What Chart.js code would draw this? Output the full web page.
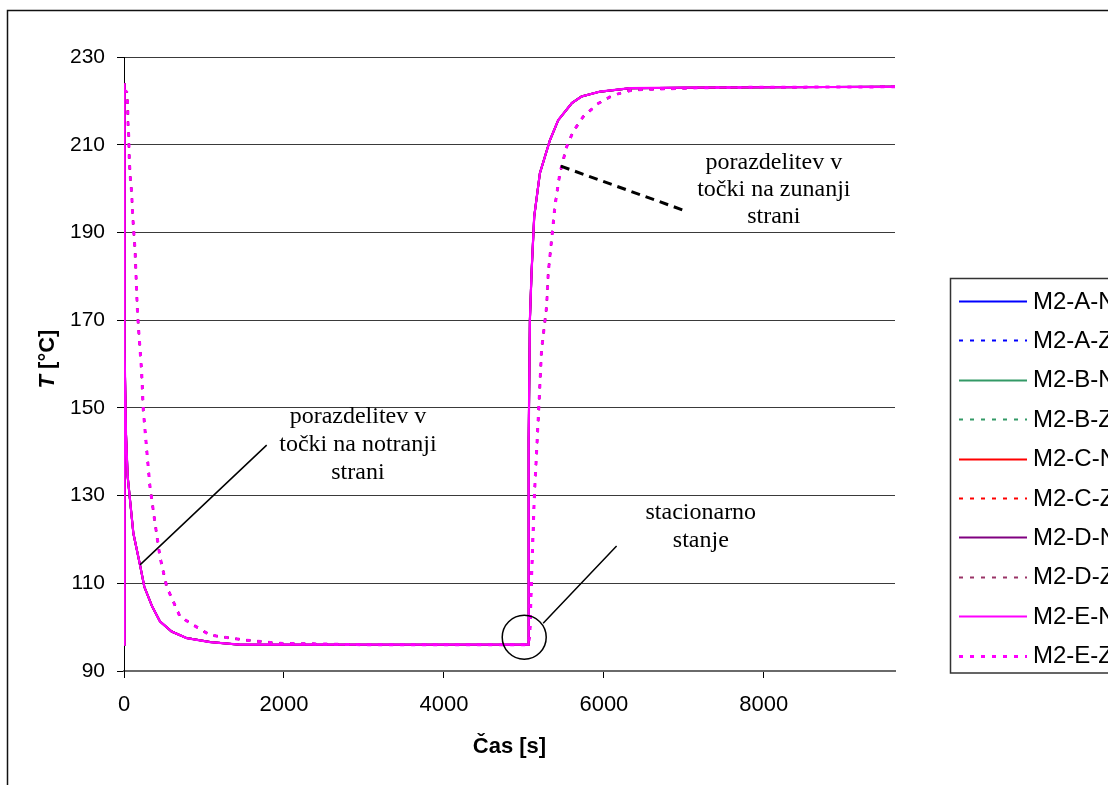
<!DOCTYPE html>
<html>
<head>
<meta charset="utf-8">
<script src="https://cdn.jsdelivr.net/npm/chart.js@4/dist/chart.umd.min.js"></script>
<style>
  html, body { margin: 0; padding: 0; background: #fff; }
  canvas { display: block; }
</style>
</head>
<body>
<canvas id="c" width="1108" height="785"></canvas>
<script>
// Series names (N = point on the inner side, Z = point on the outer side)
const seriesNames = ['M2-A-N', 'M2-A-Z', 'M2-B-N', 'M2-B-Z', 'M2-C-N', 'M2-C-Z', 'M2-D-N', 'M2-D-Z', 'M2-E-N', 'M2-E-Z'];

// Temperature at the inner-side point: time [s] and T [°C] (all variants coincide)
const timeN = [0, 2, 12, 25, 46, 117, 200, 254, 350, 450, 596, 783, 1075, 1450, 2000, 3000, 4000, 5054, 5060, 5075,
               5096, 5129, 5200, 5325, 5429, 5600, 5721, 5950, 6325, 7000, 8000, 9640];
const tempN = [96, 224, 163, 144, 134.3, 121.4, 114.2, 109.2, 104.8, 101.3, 99, 97.5, 96.6, 96, 96, 96, 96, 96, 143, 170,
               181, 193.6, 203.5, 211, 215.6, 219.5, 221, 222.1, 222.9, 223, 223.1, 223.2];

// Temperature at the outer-side point: time [s] and T [°C] (all variants coincide)
const timeZ = [0, 34, 46, 50, 59, 66, 81, 96, 109, 138, 159, 171, 221, 241, 284, 325, 388, 450, 534, 700,
               866, 1075, 1491, 1950, 3000, 4000, 5056, 5075, 5096, 5129, 5166, 5191, 5221, 5284, 5304, 5346, 5388, 5450, 5534, 5616,
               5741, 5929, 6116, 6366, 7200, 8000, 9640];
const tempZ = [222.5, 222, 219, 215, 212, 206.5, 202, 199, 193.6, 186, 176, 171, 158, 149.5, 140.4, 132, 123.7, 116, 109.2, 102.4,
               100.5, 98.2, 97.1, 96.3, 96, 96, 96, 98.6, 111.5, 129, 142.7, 151.8, 163.2, 173.1, 180.7, 188.3, 196, 203.5, 209.5, 213,
               216.4, 219.4, 221.3, 222.5, 223, 223.1, 223.2];

// Axis ticks
const xTickValues = [0, 2000, 4000, 6000, 8000];
const yTickValues = [90, 110, 130, 150, 170, 190, 210, 230];
const xMax = 9640;

// Callout texts
const noteOuter = ['porazdelitev v', 'točki na zunanji', 'strani'];
const noteInner = ['porazdelitev v', 'točki na notranji', 'strani'];
const noteSteady = ['stacionarno', 'stanje'];

// Line styles per series
const seriesColors = ['#0000ff', '#0000ff', '#339966', '#339966', '#ff0000', '#ff0000', '#800080', '#993366', '#ff00ff', '#ff00ff'];

function toPoints(ts, vs) { return ts.map((t, i) => ({ x: t, y: vs[i] })); }

const datasets = seriesNames.map((name, i) => {
  const outer = name.endsWith('Z');
  const isE = name.startsWith('M2-E');
  return {
    label: name,
    data: outer ? toPoints(timeZ, tempZ) : toPoints(timeN, tempN),
    borderColor: seriesColors[i],
    backgroundColor: seriesColors[i],
    borderWidth: outer ? (isE ? 3 : 2) : (isE ? 2.2 : 2),
    borderDash: outer ? [4, 7] : [],
    pointRadius: 0,
    tension: 0,
    fill: false,
    order: seriesNames.length - i
  };
});

const SANS = '"Liberation Sans", Arial, sans-serif';
const SERIF = '"Liberation Serif", "Times New Roman", serif';

const decorPlugin = {
  id: 'decor',
  afterDraw(chart) {
    const ctx = chart.ctx;
    const xs = chart.scales.x, ys = chart.scales.y;
    const X = v => xs.getPixelForValue(v);
    const Y = v => ys.getPixelForValue(v);
    ctx.save();

    // outer frame
    ctx.strokeStyle = '#111';
    ctx.lineWidth = 1.5;
    ctx.strokeRect(7.5, 10.5, 2000, 2000);

    // y-axis title: italic T + unit
    ctx.fillStyle = '#000';
    ctx.translate(48, 359);
    ctx.rotate(-Math.PI / 2);
    ctx.textBaseline = 'middle';
    const f1 = 'italic bold 22px ' + SANS, f2 = 'bold 22px ' + SANS;
    ctx.font = f1; const w1 = ctx.measureText('T').width;
    ctx.font = f2; const w2 = ctx.measureText(' [°C]').width;
    const sx = -(w1 + w2) / 2;
    ctx.textAlign = 'left';
    ctx.font = f1; ctx.fillText('T', sx, 0);
    ctx.font = f2; ctx.fillText(' [°C]', sx + w1, 0);
    ctx.setTransform(1, 0, 0, 1, 0, 0);

    // callout texts
    function block(lines, t, v, gap) {
      ctx.font = '24px ' + SERIF;
      ctx.fillStyle = '#000';
      ctx.textAlign = 'center';
      ctx.textBaseline = 'middle';
      const cx = X(t), cy = Y(v);
      const n = lines.length;
      lines.forEach((s, k) => ctx.fillText(s, cx, cy + (k - (n - 1) / 2) * gap));
    }
    block(noteOuter, 8125, 199.7, 27);
    block(noteInner, 2925, 141.5, 28);
    block(noteSteady, 7212, 122.8, 28);

    // pointer lines
    ctx.strokeStyle = '#000';
    ctx.lineWidth = 3;
    ctx.setLineDash([9, 6]);
    ctx.beginPath();
    ctx.moveTo(X(5462), Y(205.1));
    ctx.lineTo(X(7012), Y(194.95));
    ctx.stroke();
    ctx.setLineDash([]);
    ctx.lineWidth = 1.5;
    ctx.beginPath();
    ctx.moveTo(X(200), Y(114.2));
    ctx.lineTo(X(1784), Y(141.5));
    ctx.moveTo(X(5241), Y(100.9));
    ctx.lineTo(X(6159), Y(118.5));
    ctx.stroke();
    ctx.beginPath();
    ctx.arc(X(5004), Y(97.7), 22, 0, Math.PI * 2);
    ctx.stroke();

    // legend
    const lx = 950.5, ly = 278.5;
    ctx.strokeStyle = '#333';
    ctx.lineWidth = 1.5;
    ctx.strokeRect(lx, ly, 400, 394.5);
    ctx.font = '24px ' + SANS;
    ctx.textAlign = 'left';
    ctx.textBaseline = 'middle';
    chart.data.datasets.forEach((ds, i) => {
      const yy = 301 + i * 39.4;
      ctx.strokeStyle = ds.borderColor;
      ctx.lineWidth = ds.borderWidth;
      ctx.setLineDash(ds.borderDash);
      ctx.beginPath();
      ctx.moveTo(959, Math.round(yy) + 0.5);
      ctx.lineTo(1027, Math.round(yy) + 0.5);
      ctx.stroke();
      ctx.setLineDash([]);
      ctx.fillStyle = '#000';
      ctx.fillText(ds.label, 1033, yy + 1);
    });
    ctx.restore();
  }
};

new Chart(document.getElementById('c'), {
  type: 'line',
  data: { datasets },
  plugins: [decorPlugin],
  options: {
    responsive: false,
    animation: false,
    devicePixelRatio: 1,
    events: [],
    layout: { padding: { left: 0, top: 57, right: 213, bottom: 25 } },
    plugins: { legend: { display: false }, tooltip: { enabled: false } },
    scales: {
      x: {
        type: 'linear',
        min: 0,
        max: xMax,
        afterFit(scale) { scale.height = 89; },
        afterBuildTicks(scale) { scale.ticks = xTickValues.map(v => ({ value: v })); },
        grid: { drawOnChartArea: false, drawTicks: true, tickLength: 7, tickColor: '#000' },
        border: { color: '#6a6a6a', width: 2 },
        ticks: { color: '#000', padding: 14, maxRotation: 0, font: { family: SANS, size: 22 }, callback: v => String(v) },
        title: { display: true, text: 'Čas [s]', color: '#000', padding: 0, font: { family: SANS, size: 22, weight: 'bold' } }
      },
      y: {
        type: 'linear',
        min: 90,
        max: 230,
        afterFit(scale) { scale.width = 124; },
        afterBuildTicks(scale) { scale.ticks = yTickValues.map(v => ({ value: v })); },
        grid: { color: '#3a3a3a', lineWidth: 1, drawTicks: true, tickLength: 7, tickColor: '#000' },
        border: { color: '#000', width: 1 },
        ticks: { color: '#000', padding: 12, font: { family: SANS, size: 21 }, callback: v => String(v) }
      }
    }
  }
});
</script>
</body>
</html>
